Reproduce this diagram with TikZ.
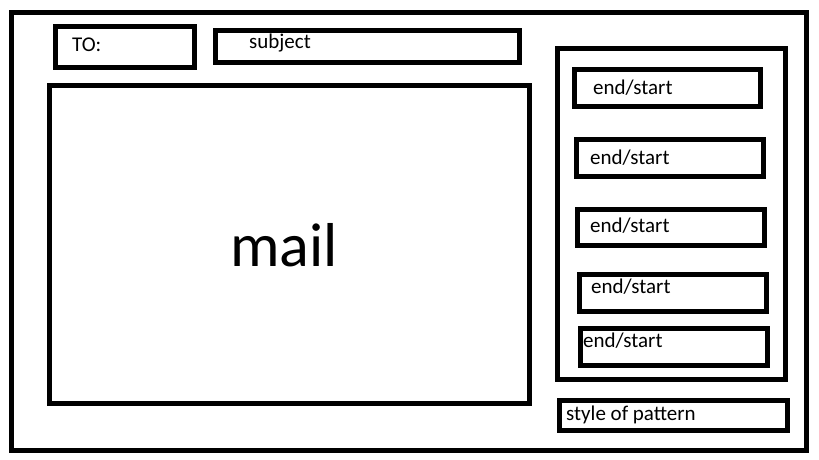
\documentclass[tikz,border=0pt]{standalone}
\usepackage{fontspec}
\setmainfont{Carlito}
\begin{document}
\begin{tikzpicture}[x=1pt,y=-1pt,
  frame/.style={draw=black,line width=5pt,fill=none},
  lbl/.style={anchor=base west,inner sep=0pt,font=\fontsize{21}{24}\selectfont},
  big/.style={anchor=base,inner sep=0pt,font=\fontsize{62}{70}\selectfont}]
\useasboundingbox[fill=white] (0,0) rectangle (819,460);
\draw[frame] (11.5,12.5) rectangle (806,450);
\draw[frame] (55.5,26.5) rectangle (194.5,67.5);
\draw[frame] (215.5,30.5) rectangle (519.5,63);
\draw[frame] (49.5,85.5) rectangle (529,403);
\draw[frame] (557.5,49) rectangle (785.5,379);
\draw[frame] (574.5,69.5) rectangle (760.5,106.5);
\draw[frame] (576.5,139) rectangle (763.5,176);
\draw[frame] (577.5,209) rectangle (764.5,245.5);
\draw[frame] (579.5,274.5) rectangle (766.5,311.5);
\draw[frame] (580.5,328) rectangle (767.5,365);
\draw[frame] (559.5,400.5) rectangle (787.5,430.5);
\node[lbl] (to) at (72,52) {TO:};
\node[lbl] (subj) at (249,48.5) {subject};
\node[big] (mail) at (284,266) {mail};
\node[lbl] (e1) at (593,94.5) {end/start};
\node[lbl] (e2) at (590,164) {end/start};
\node[lbl] (e3) at (590,232) {end/start};
\node[lbl] (e4) at (591,293.5) {end/start};
\node[lbl] (e5) at (583,347) {end/start};
\node[lbl] (sty) at (566,420) {style of pattern};
\end{tikzpicture}
\end{document}
